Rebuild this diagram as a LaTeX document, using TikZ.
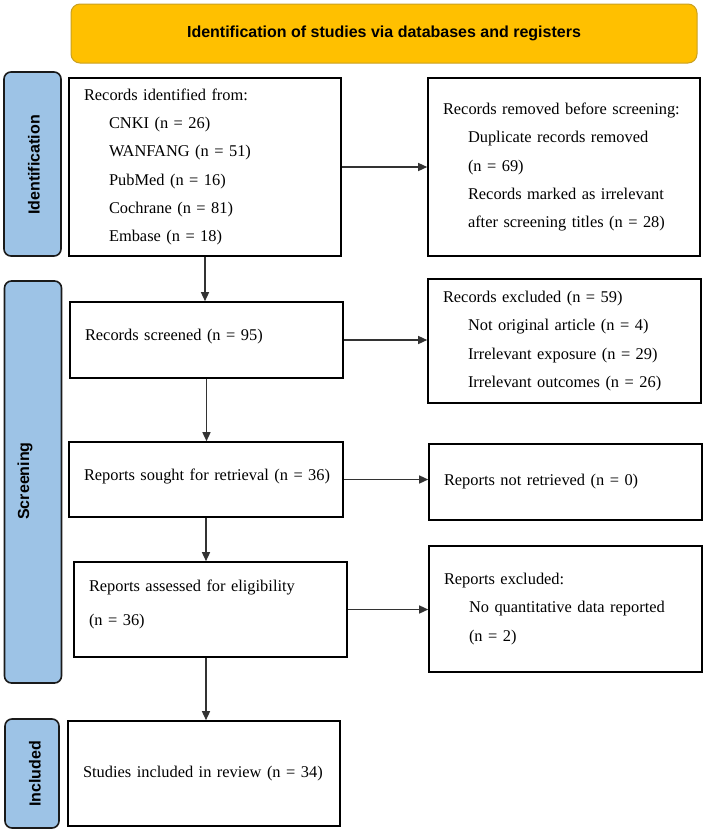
\documentclass[tikz,border=0pt]{standalone}
\usepackage{fontspec}
\setmainfont{Liberation Serif}[WordSpace={0.7,0.5,0.5}]
\newfontfamily\hdfont{Liberation Sans}
\usetikzlibrary{arrows.meta}
\definecolor{sidefill}{HTML}{9DC3E6}
\definecolor{sidedraw}{HTML}{1A1A1A}
\definecolor{bannerfill}{HTML}{FFC000}
\definecolor{bannerdraw}{HTML}{C9A020}
\definecolor{arrowcol}{HTML}{333333}
\newcommand{\boxfont}{\fontsize{16.4pt}{28.3pt}\selectfont}
\newcommand{\boxfontwide}{\fontsize{16.4pt}{34pt}\selectfont}
\tikzset{
  box/.style={draw=black, line width=1.6pt, fill=white, rectangle, inner xsep=15pt, inner ysep=0pt, align=left,
    font=\boxfont},
  sidebar/.style={draw=sidedraw, line width=1.6pt, fill=sidefill, rounded corners=7pt, rectangle, inner sep=0pt},
  sidelabel/.style={rotate=90, inner sep=0pt, font=\hdfont\bfseries\fontsize{16pt}{19pt}\selectfont},
  banner/.style={draw=bannerdraw, line width=1pt, fill=bannerfill, rounded corners=9pt, rectangle, inner sep=0pt,
    font=\hdfont\bfseries\fontsize{16pt}{19pt}\selectfont},
  arr/.style={draw=arrowcol, line width=1.4pt, -{Triangle[length=9pt,width=8pt]}},
}
\newcommand{\ind}{\hspace*{25pt}}
\newcommand{\lift}[2]{\raisebox{0pt}[\height][\dimexpr\depth+#1\relax]{#2}}
\begin{document}
\begin{tikzpicture}[x=1pt,y=-1pt]
\useasboundingbox (0,0) rectangle (706,833);
% banner
\node[banner, minimum width=626pt, minimum height=59pt] (banner) at (384,33.5) {Identification of studies via databases and registers};
% side bars
\node[sidebar, minimum width=57pt, minimum height=184pt] (sideid) at (32.5,164) {};
\node[sidelabel] (sideidt) at (34,165) {Identification};
\node[sidebar, minimum width=57pt, minimum height=402pt] (sidesc) at (33,482) {};
\node[sidelabel] (sidesct) at (25,481) {Screening};
\node[sidebar, minimum width=54pt, minimum height=109pt] (sidein) at (32,773.5) {};
\node[sidelabel] (sideint) at (35,774) {Included};
% boxes
\node[box, minimum width=272pt, minimum height=178pt, text width=242pt] (ident) at (205,167)
  {Records identified from:\\ \ind CNKI (n = 26)\\ \ind WANFANG (n = 51)\\ \ind PubMed (n = 16)\\ \ind Cochrane (n = 81)\\ \ind Embase (n = 18)};
\node[box, minimum width=272pt, minimum height=178pt, text width=242pt] (removed) at (564,167)
  {Records removed before screening:\\ \ind Duplicate records removed\\ \ind (n = 69)\\ \ind Records marked as irrelevant\\ \ind after screening titles (n = 28)};
\node[box, minimum width=273pt, minimum height=76pt, text width=243pt] (screened) at (206.5,340)
  {\lift{6pt}{Records screened (n = 95)}};
\node[box, minimum width=273pt, minimum height=124pt, text width=243pt] (excluded) at (564.5,341)
  {Records excluded (n = 59)\\ \ind Not original article (n = 4)\\ \ind Irrelevant exposure (n = 29)\\ \ind Irrelevant outcomes (n = 26)};
\node[box, minimum width=274pt, minimum height=75pt, text width=244pt] (sought) at (206,479.5)
  {\lift{6pt}{Reports sought for retrieval (n = 36)}};
\node[box, minimum width=273pt, minimum height=76pt, text width=243pt] (notret) at (565.5,482)
  {Reports not retrieved (n = 0)};
\node[box, minimum width=273pt, minimum height=95pt, text width=243pt, font=\boxfontwide] (assessed) at (210.5,609.5)
  {Reports assessed for eligibility\\ \lift{11pt}{(n = 36)}};
\node[box, minimum width=273pt, minimum height=126pt, text width=243pt] (repexcl) at (565.5,609)
  {Reports excluded:\\ \ind No quantitative data reported\\ \ind (n = 2)};
\node[box, minimum width=272pt, minimum height=105pt, text width=242pt] (included) at (204,773.5)
  {Studies included in review (n = 34)};
% arrows
\draw[arr] (ident.south) -- (ident.south |- screened.north);
\draw[arr] (screened.south) -- (screened.south |- sought.north);
\draw[arr] (sought.south) -- (sought.south |- assessed.north);
\draw[arr] (sought.south |- assessed.south) -- (sought.south |- included.north);
\draw[arr] (ident.east) -- (ident.east -| removed.west);
\draw[arr] (screened.east) -- (screened.east -| excluded.west);
\draw[arr] (sought.east) -- (sought.east -| notret.west);
\draw[arr] (assessed.east) -- (assessed.east -| repexcl.west);
\end{tikzpicture}
\end{document}
